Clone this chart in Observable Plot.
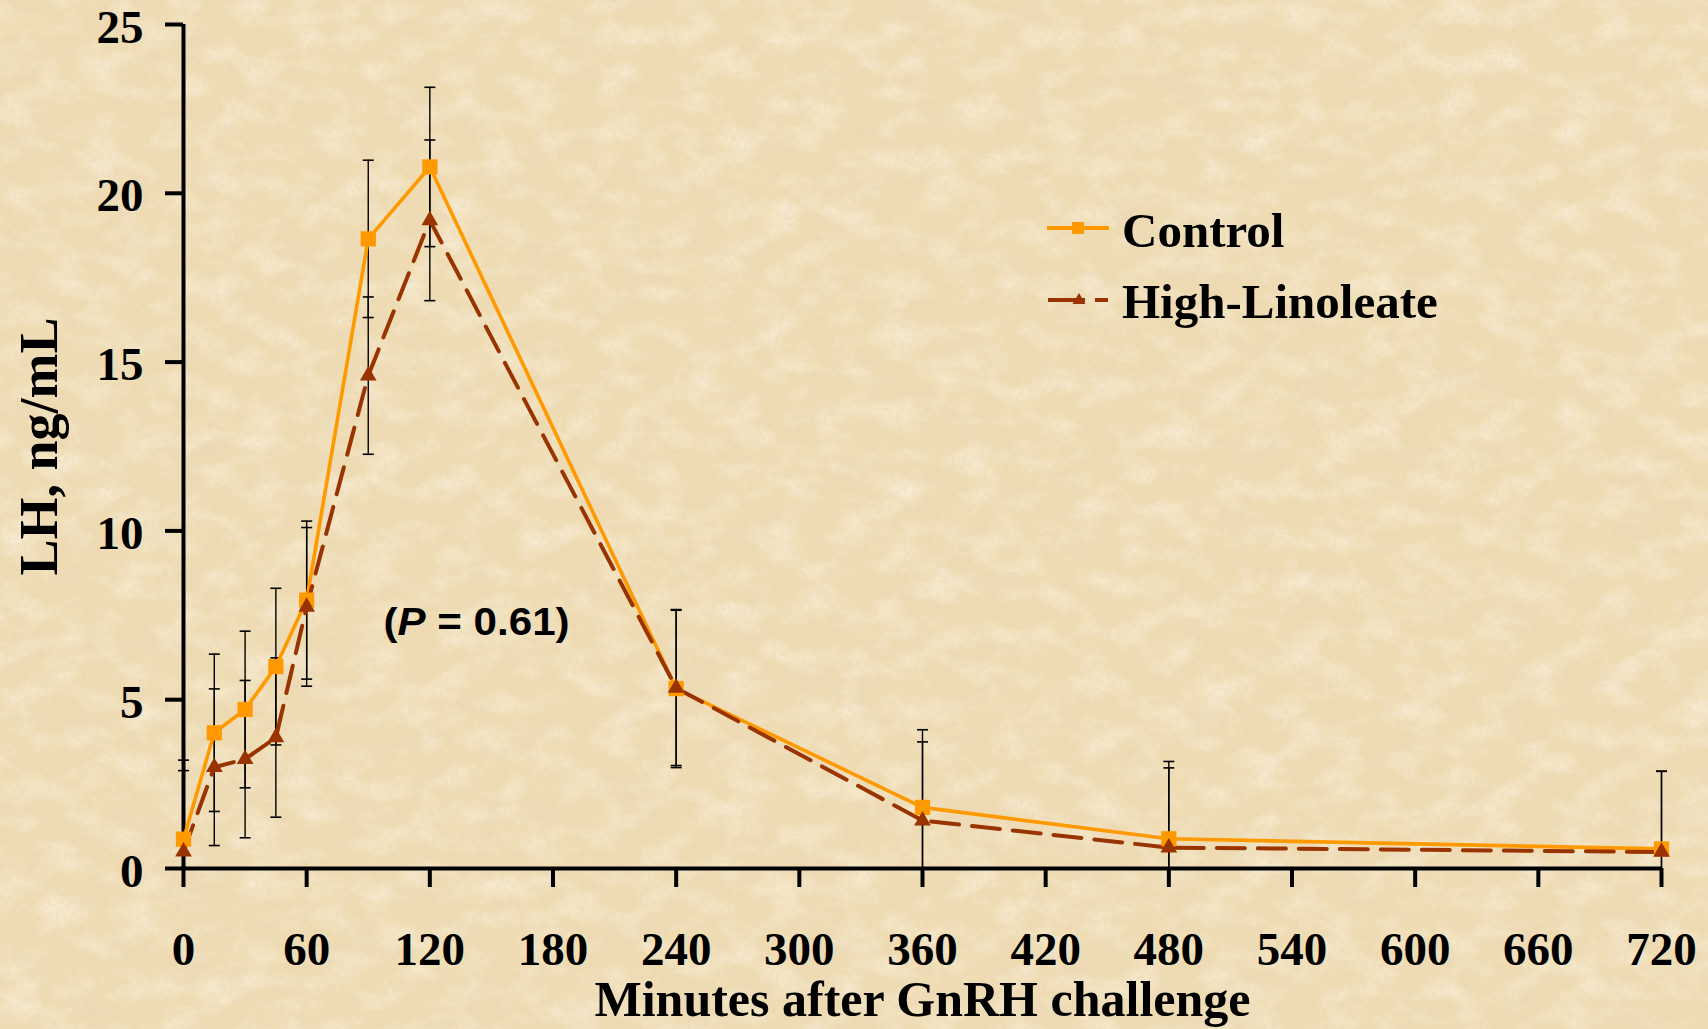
<!DOCTYPE html>
<html>
<head>
<meta charset="utf-8">
<script src="https://cdn.jsdelivr.net/npm/d3@7"></script>
<script src="https://cdn.jsdelivr.net/npm/@observablehq/plot@0.6"></script>
<style>
  html, body { margin: 0; padding: 0; background: #EFDCB3; }
  #wrap { position: relative; width: 1708px; height: 1029px; overflow: hidden; }
  #bg, #chart, #legend { position: absolute; left: 0; top: 0; }
  #legend { left: 1040px; top: 190px; }
</style>
</head>
<body>
<div id="wrap">
  <svg id="bg" width="1708" height="1029">
    <defs>
      <filter id="blotch" x="0" y="0" width="100%" height="100%">
        <feTurbulence type="fractalNoise" baseFrequency="0.018 0.03" numOctaves="4" seed="7"/>
        <feColorMatrix type="matrix" values="0 0 0 0 0.84  0 0 0 0 0.69  0 0 0 0 0.46  1.4 0 0 0 -0.64"/>
      </filter>
      <filter id="light" x="0" y="0" width="100%" height="100%">
        <feTurbulence type="fractalNoise" baseFrequency="0.025 0.04" numOctaves="3" seed="21"/>
        <feColorMatrix type="matrix" values="0 0 0 0 0.98  0 0 0 0 0.93  0 0 0 0 0.81  1.2 0 0 0 -0.52"/>
      </filter>
      <filter id="grain" x="0" y="0" width="100%" height="100%">
        <feTurbulence type="fractalNoise" baseFrequency="0.25" numOctaves="2" seed="3"/>
        <feColorMatrix type="matrix" values="0 0 0 0 0.80  0 0 0 0 0.67  0 0 0 0 0.47  1.0 0 0 0 -0.40"/>
      </filter>
    </defs>
    <rect width="1708" height="1029" fill="#EFDCB3"/>
    <rect width="1708" height="1029" filter="url(#blotch)"/>
    <rect width="1708" height="1029" filter="url(#light)"/>
    <rect width="1708" height="1029" filter="url(#grain)"/>
  </svg>
  <div id="chart"></div>
  <svg id="legend" width="420" height="150" font-family="'Liberation Serif', 'Times New Roman', serif" font-weight="bold">
    <line x1="7" x2="69" y1="38" y2="38" stroke="#FF9900" stroke-width="4"/>
    <rect x="32" y="32" width="12" height="12" fill="#FF9900"/>
    <text x="82" y="56.5" font-size="49" fill="#000">Control</text>
    <line x1="8" x2="68" y1="110" y2="110" stroke="#993300" stroke-width="4" stroke-dasharray="37 10 13"/>
    <path d="M39,103 L45.5,114 L32.5,114 Z" fill="#993300"/>
    <text x="82" y="128" font-size="49" fill="#000">High-Linoleate</text>
  </svg>
</div>
<script>
// ---- data ----
const minutes     = [0, 15, 30, 45, 60, 90, 120, 240, 360, 480, 720];
const control     = [0.87, 4.02, 4.71, 5.98, 7.95, 18.65, 20.78, 5.33, 1.81, 0.88, 0.58];
const controlSE   = [2.34, 2.33, 2.32, 2.32, 2.34, 2.33, 2.36, 2.34, 2.30, 2.29, 2.30];
const linoleate   = [0.50, 3.00, 3.24, 3.88, 7.75, 14.60, 19.20, 5.35, 1.42, 0.62, 0.49];
const linoleateSE = [2.40, 2.32, 2.33, 2.36, 2.35, 2.33, 2.38, 2.30, 2.33, 2.36, 2.39];
const xTicks = [0, 60, 120, 180, 240, 300, 360, 420, 480, 540, 600, 660, 720];
const yTicks = [0, 5, 10, 15, 20, 25];
const seriesNames = ["Control", "High-Linoleate"];
const xTitle = "Minutes after GnRH challenge";
const yTitle = "LH, ng/mL";

const ORANGE = "#FF9900", BROWN = "#993300";

function rows(vals, se, name) {
  return minutes.map((m, i) => ({
    minute: m, value: vals[i],
    lo: Math.max(0, vals[i] - se[i]), hi: vals[i] + se[i],
    lowVisible: vals[i] - se[i] >= 0, series: name
  }));
}
const ctl = rows(control, controlSE, seriesNames[0]);
const hl = rows(linoleate, linoleateSE, seriesNames[1]);
const all = ctl.concat(hl);
const caps = all.map(d => ({minute: d.minute, v: d.hi}))
  .concat(all.filter(d => d.lowVisible).map(d => ({minute: d.minute, v: d.lo})));

const capSymbol = { draw(ctx) { ctx.moveTo(-5.5, 0); ctx.lineTo(5.5, 0); } };

const chart = Plot.plot({
  width: 1708, height: 1029,
  marginLeft: 183, marginRight: 47, marginTop: 24, marginBottom: 161,
  x: { domain: [0, 720] },
  y: { domain: [0, 25] },
  style: {
    background: "transparent", color: "#000", overflow: "visible",
    fontFamily: "'Liberation Serif', 'Times New Roman', serif", fontWeight: "bold"
  },
  marks: [
    Plot.axisX({ ticks: xTicks, tickSize: 19, tickPadding: 44.5, fontSize: 47, strokeWidth: 4, label: null, tickFormat: d => String(d) }),
    Plot.axisY({ ticks: yTicks, tickSize: 18, strokeWidth: 4, label: null, tickFormat: () => "" }),
    Plot.text(yTicks, { x: 0, y: d => d, text: d => String(d), textAnchor: "end", lineAnchor: "middle", dx: -40, dy: 3, fontSize: 47 }),
    Plot.ruleX([0], { stroke: "#000", strokeWidth: 4 }),
    Plot.ruleY([0], { stroke: "#000", strokeWidth: 4 }),
    Plot.ruleX(all, { x: "minute", y1: "lo", y2: "hi", stroke: "#000", strokeWidth: 1.4 }),
    Plot.dot(caps, { x: "minute", y: "v", symbol: capSymbol, stroke: "#000", strokeWidth: 1.6, r: 5 }),
    Plot.line(ctl, { x: "minute", y: "value", stroke: ORANGE, strokeWidth: 3.6 }),
    Plot.line(hl, { x: "minute", y: "value", stroke: BROWN, strokeWidth: 4, strokeDasharray: "28,13" }),
    Plot.dot(ctl, { x: "minute", y: "value", symbol: "square", r: 8.6, fill: ORANGE }),
    Plot.dot(hl, { x: "minute", y: "value", symbol: "triangle", r: 6.2, fill: BROWN }),
    Plot.text([xTitle], { frameAnchor: "bottom", lineAnchor: "middle", textAnchor: "middle", dy: 131, fontSize: 50 }),
    Plot.text([yTitle], { frameAnchor: "left", lineAnchor: "middle", textAnchor: "middle", rotate: -90, dx: -144, fontSize: 54 })
  ]
});
document.getElementById("chart").appendChild(chart);

// P-value annotation placed via the chart's scales
const sx = chart.scale("x"), sy = chart.scale("y");
const ann = d3.select(chart).append("text")
  .attr("transform", `translate(${sx.apply(143)},${sy.apply(6.9)}) scale(1.08,1)`)
  .attr("text-anchor", "middle")
  .attr("font-family", "'Liberation Sans', Arial, sans-serif")
  .attr("font-weight", "bold")
  .attr("font-size", 39)
  .attr("fill", "#000");
ann.append("tspan").text("(");
ann.append("tspan").attr("font-style", "italic").text("P");
ann.append("tspan").text(" = 0.61)");
</script>
</body>
</html>
